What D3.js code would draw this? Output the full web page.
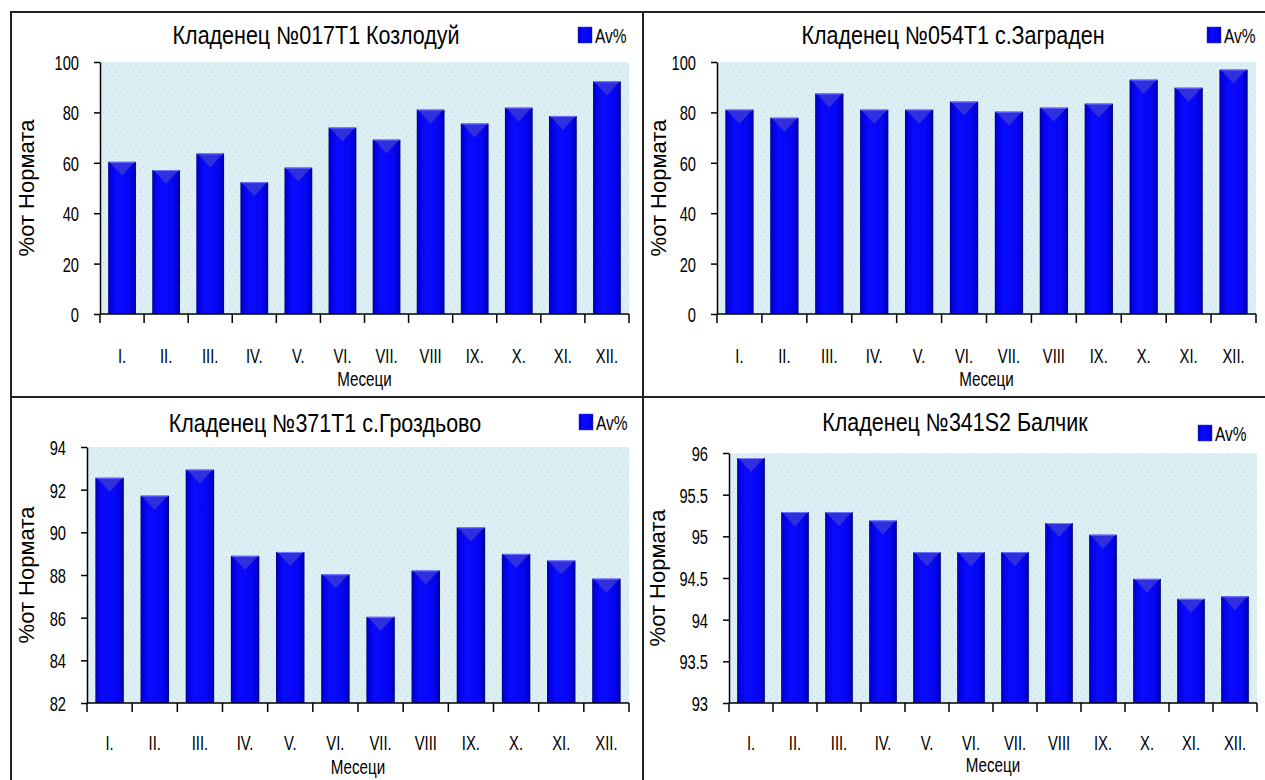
<!DOCTYPE html>
<html>
<head>
<meta charset="utf-8">
<script src="https://cdn.jsdelivr.net/npm/d3@7"></script>
<style>
  html, body { margin: 0; padding: 0; background: #fff; }
  svg { display: block; font-family: "Liberation Sans", Arial, sans-serif; }
</style>
</head>
<body>
<svg id="chart" width="1265" height="780"></svg>
<script>
// Monthly groundwater level, % of norm, for four wells
const months = ["I.", "II.", "III.", "IV.", "V.", "VI.", "VII.", "VIII", "IX.", "X.", "XI.", "XII."];
const titles = [
  "Кладенец №017T1 Козлодуй",
  "Кладенец №054T1 с.Заграден",
  "Кладенец №371T1 с.Гроздьово",
  "Кладенец №341S2 Балчик"
];
const seriesName = "Av%";
const yTitle = "%от Нормата";
const xTitle = "Месеци";

const kozloduy   = [60.4, 57.1, 63.7, 52.3, 58.1, 74.0, 69.2, 81.1, 75.6, 81.9, 78.6, 92.3];
const zagrazhden = [81.1, 77.9, 87.5, 81.1, 81.1, 84.3, 80.3, 81.9, 83.5, 93.0, 89.8, 97.0];
const grozdyovo  = [92.56, 91.72, 92.94, 88.90, 89.08, 88.03, 86.04, 88.21, 90.23, 88.99, 88.68, 87.83];
const balchik    = [95.94, 95.29, 95.29, 95.19, 94.81, 94.81, 94.81, 95.16, 95.02, 94.49, 94.25, 94.28];

const ticksTop      = [0, 20, 40, 60, 80, 100];
const ticksGrozd    = [82, 84, 86, 88, 90, 92, 94];
const ticksBalchik  = [93, 93.5, 94, 94.5, 95, 95.5, 96];

// Panel geometry (plot rectangle, title, legend, axis titles)
const layout = [
  { left: 100, right: 629, top: 62,  bottom: 314, titleX: 316, titleY: 44,  legX: 578,  legY: 27,  yTitleX: 26,  xTitleY: 386, tickY: 363 },
  { left: 717, right: 1256, top: 62, bottom: 314, titleX: 953, titleY: 44,  legX: 1207, legY: 27,  yTitleX: 658, xTitleY: 386, tickY: 363 },
  { left: 87,  right: 629, top: 447, bottom: 703, titleX: 325, titleY: 432, legX: 579,  legY: 414, yTitleX: 26,  xTitleY: 774, tickY: 750 },
  { left: 729, right: 1257, top: 453, bottom: 703, titleX: 955, titleY: 431, legX: 1198, legY: 425, yTitleX: 657, xTitleY: 772, tickY: 750 }
];

const panels = [
  { title: titles[0], values: kozloduy,   ticks: ticksTop },
  { title: titles[1], values: zagrazhden, ticks: ticksTop },
  { title: titles[2], values: grozdyovo,  ticks: ticksGrozd },
  { title: titles[3], values: balchik,    ticks: ticksBalchik }
];

const svg = d3.select("#chart");
const defs = svg.append("defs");

// Speckled pale-cyan plot background
const pat = defs.append("pattern")
  .attr("id", "speckle").attr("patternUnits", "userSpaceOnUse")
  .attr("width", 12).attr("height", 10);
pat.append("rect").attr("width", 12).attr("height", 10).attr("fill", "#dcf0f4");
[[1, 1, "#b9d3ea"], [7, 2, "#c4d8ee"], [4, 5, "#bcd6ea"], [10, 6, "#cfc8e6"], [2, 8, "#c2dcec"], [8, 9, "#bdd4ea"]]
  .forEach(([x, y, c]) => pat.append("rect").attr("x", x).attr("y", y).attr("width", 1).attr("height", 1).attr("fill", c));

// Bar body shading: dark edges, bright blue core
const grad = defs.append("linearGradient").attr("id", "barGrad").attr("x1", 0).attr("x2", 1).attr("y1", 0).attr("y2", 0);
[[0, "#00007a"], [0.06, "#0000d8"], [0.3, "#0a0aff"], [0.75, "#0606f4"], [0.94, "#0000c8"], [1, "#000070"]]
  .forEach(([o, c]) => grad.append("stop").attr("offset", o).attr("stop-color", c));

const SX = 0.74; // horizontal squeeze of the condensed lettering

function squeezedText(g, x, y, str, size, anchor, sx) {
  return g.append("text")
    .attr("transform", `translate(${x},${y}) scale(${sx},1)`)
    .attr("text-anchor", anchor)
    .attr("font-size", size)
    .attr("fill", "#000")
    .text(str);
}

// Frame lines between the four panels
const frame = svg.append("g").attr("stroke", "#222").attr("stroke-width", 2).attr("fill", "none");
frame.append("path").attr("d", "M11,780 V12 H1265");
frame.append("path").attr("d", "M643,12 V780");
frame.append("path").attr("d", "M11,397 H1265");

panels.forEach((p, i) => {
  const L = layout[i];
  const g = svg.append("g");

  const x = d3.scaleBand().domain(months).range([L.left, L.right]).paddingInner(0.37).paddingOuter(0.185);
  const y = d3.scaleLinear().domain([p.ticks[0], p.ticks[p.ticks.length - 1]]).range([L.bottom, L.top]);

  // plot area
  g.append("rect")
    .attr("x", L.left).attr("y", L.top)
    .attr("width", L.right - L.left).attr("height", L.bottom - L.top)
    .attr("fill", "url(#speckle)");

  // bars
  const bars = g.append("g").selectAll("g").data(p.values).join("g");
  bars.append("rect")
    .attr("x", (d, k) => x(months[k]))
    .attr("y", d => y(d))
    .attr("width", x.bandwidth())
    .attr("height", d => y.range()[0] - y(d))
    .attr("fill", "url(#barGrad)");
  bars.append("path")
    .attr("d", (d, k) => {
      const x0 = x(months[k]) + 2, x1 = x(months[k]) + x.bandwidth() - 2, t = y(d) + 1;
      return `M${x0},${t} L${x1},${t} L${(x0 + x1) / 2},${t + 13} Z`;
    })
    .attr("fill", "#3a3ad6").attr("opacity", 0.8);
  bars.append("line")
    .attr("x1", (d, k) => x(months[k]) + 1)
    .attr("x2", (d, k) => x(months[k]) + x.bandwidth() - 1)
    .attr("y1", d => y(d) + 0.5).attr("y2", d => y(d) + 0.5)
    .attr("stroke", "#7c7cff").attr("stroke-width", 1);

  // y axis
  const yAxis = g.append("g").attr("transform", `translate(${L.left},0)`)
    .call(d3.axisLeft(y).tickValues(p.ticks).tickSize(6).tickSizeOuter(0).tickFormat(d3.format("")));
  yAxis.select(".domain").attr("stroke", "#000").attr("stroke-width", 1.5);
  yAxis.selectAll(".tick line").attr("stroke", "#000").attr("stroke-width", 1.5);
  yAxis.selectAll(".tick text")
    .attr("font-size", 21).attr("font-family", null).attr("fill", "#000")
    .attr("x", -21 / 0.7).attr("dy", "0.36em")
    .attr("transform", "scale(0.7,1)");

  // x axis: baseline, boundary ticks, month labels
  g.append("line").attr("x1", L.left).attr("x2", L.right)
    .attr("y1", L.bottom).attr("y2", L.bottom).attr("stroke", "#000").attr("stroke-width", 1.5);
  g.append("g").selectAll("line").data(d3.range(months.length + 1)).join("line")
    .attr("x1", k => x.range()[0] + k * x.step()).attr("x2", k => x.range()[0] + k * x.step())
    .attr("y1", L.bottom).attr("y2", L.bottom + 9)
    .attr("stroke", "#000").attr("stroke-width", 1.5);
  const xAxis = g.append("g").attr("transform", `translate(0,${L.tickY})`)
    .call(d3.axisBottom(x).tickSize(0).tickPadding(0));
  xAxis.select(".domain").remove();
  xAxis.selectAll(".tick text")
    .attr("font-size", 20).attr("font-family", null).attr("fill", "#000")
    .attr("y", 0).attr("dy", 0)
    .attr("transform", `scale(${SX},1)`);

  // titles
  squeezedText(g, L.titleX, L.titleY, p.title, 25, "middle", 0.86);
  squeezedText(g, (L.left + L.right) / 2, L.xTitleY, xTitle, 20, "middle", 0.76);
  g.append("text")
    .attr("transform", `translate(${L.yTitleX + 8},${(L.top + L.bottom) / 2}) rotate(-90)`)
    .attr("text-anchor", "middle").attr("font-size", 22).attr("fill", "#000")
    .text(yTitle);

  // legend
  g.append("rect").attr("x", L.legX).attr("y", L.legY).attr("width", 14).attr("height", 16)
    .attr("fill", "url(#barGrad)").attr("stroke", "#3a3ad6").attr("stroke-width", 0.5);
  squeezedText(g, L.legX + 17, L.legY + 16, seriesName, 21, "start", 0.74);
});
</script>
</body>
</html>
